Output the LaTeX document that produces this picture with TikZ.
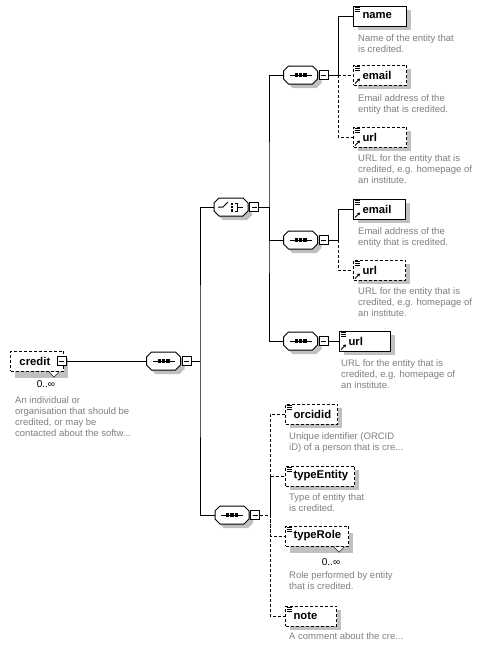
\documentclass[tikz,border=0pt]{standalone}
\usepackage{fontspec}
\usetikzlibrary{calc,shadows,arrows.meta}
\newfontfamily\uifont{Liberation Sans}
\newcommand\lblfont{\uifont\bfseries\fontsize{11.3}{13}\selectfont}
\newcommand\dscfont{\uifont\fontsize{9.5}{11}\selectfont}
\newcommand\multfont{\uifont\fontsize{10}{12}\selectfont}
\definecolor{descgray}{RGB}{128,128,128}
\definecolor{shadowgray}{RGB}{192,192,192}

\tikzset{
  conn/.style={line width=1pt},
  opt/.style={dash pattern=on 3pt off 2pt},
  elem/.style={draw, fill=white, line width=1pt, minimum height=20pt, inner sep=0pt,
    anchor=west, align=left, text width=#1, font=\lblfont},
  onebox/.style={general shadow={fill=shadowgray, shadow xshift=4pt, shadow yshift=-4pt}},
  manybox/.style={general shadow={fill=shadowgray, shadow xshift=4pt, shadow yshift=-7pt}},
  desc/.style={anchor=north west, inner sep=0pt, align=left, font=\dscfont, text=descgray},
  mult/.style={inner sep=0pt, font=\multfont},
  expander/.style={draw, fill=white, line width=0.8pt, minimum size=9pt, inner sep=0pt,
    path picture={\draw[line width=0.8pt] ([xshift=2pt]path picture bounding box.west)
      -- ([xshift=-2pt]path picture bounding box.east);}},
  compnode/.style={minimum width=34pt, minimum height=18pt, inner sep=0pt},
  glyph/.style={line width=0.7pt},
  refarrow/.style={line width=1pt, -{Triangle[length=2.5pt,width=3pt]}},
  pics/compositor/.style={code={
    \fill[shadowgray, shift={(4,4)}] (-17,-4) -- (-12,-9) -- (12,-9) -- (17,-4)
      -- (17,4) -- (12,9) -- (-12,9) -- (-17,4) -- cycle;
    \draw[line width=1pt, fill=white] (-17,-4) -- (-12,-9) -- (12,-9) -- (17,-4)
      -- (17,4) -- (12,9) -- (-12,9) -- (-17,4) -- cycle;
  }},
  pics/seqglyph/.style={code={
    \draw[line width=1pt] (-11,0) -- (11,0);
    \fill (-6,-1.6) rectangle (-2.8,1.6);
    \fill (-1.6,-1.6) rectangle (1.6,1.6);
    \fill (2.8,-1.6) rectangle (6,1.6);
  }},
  pics/choiceglyph/.style={code={
    \draw[line width=1pt] (-13,0) -- (-8,0) -- (-3,-5);
    \fill (-0.5,-4.5) rectangle (1.7,-2.3);
    \fill (-0.5,-1.1) rectangle (1.7,1.1);
    \fill (-0.5,2.3) rectangle (1.7,4.5);
    \draw[line width=1pt] (3.5,-4) -- (6,-4) -- (6,4) -- (3.5,4);
    \draw[line width=1pt] (6,0) -- (12,0);
  }},
}

% compositor: name, x, y, glyph
\newcommand\compositor[4]{%
  \pic at (#2,#3) {compositor};
  \pic at (#2,#3) {#4};
  \node[compnode] (#1) at (#2,#3) {};
  \node[expander] (#1x) at ({#2+23},#3) {};
}
% simple-content marker in the top left corner of an element box
\newcommand\txticon[1]{\draw[glyph] ($(#1.north west)+(1.5,1.5)$) -- ++(5,0)
  ++(-5,2) -- ++(5,0) ++(-5,2) -- ++(5,0);}
% reference arrow in the bottom left corner of an element box
\newcommand\reficon[1]{\draw[refarrow] ($(#1.south west)+(2,-2)$) -- ++(5,-5);}
% notch under a repeated element
\newcommand\manymark[1]{\draw[line width=0.6pt, draw=black!75, fill=white]
  ($(#1.south east)+(-15,0.6)$) -- ++(5,5) -- ++(5,-5);}

\begin{document}
\begin{tikzpicture}[x=1pt, y=-1pt]
\fill[white] (0,0) rectangle (479,648);
\useasboundingbox (0,0) rectangle (479,648);

% root element
\node[elem=53pt, opt, manybox] (credit) at (10,361) {\hspace*{9pt}credit};
\manymark{credit}
\node[expander] (creditx) at (61.5,361) {};
\node[mult] (creditM) at (46,384) {0..∞};
\node[desc] (creditD) at (15,396) {An individual or\\organisation that should be\\credited, or may be\\contacted about the softw...};

% compositors
\compositor{seqM}{163.5}{361}{seqglyph}
\compositor{choice}{231}{207}{choiceglyph}
\compositor{seqA}{300.5}{75}{seqglyph}
\compositor{seqB}{300.5}{240}{seqglyph}
\compositor{seqC}{300.5}{341}{seqglyph}
\compositor{seqD}{232}{515}{seqglyph}

% first sequence
\node[elem=53pt, onebox] (name) at (353,16) {\hspace*{9pt}name};
\txticon{name}
\node[desc] (nameD) at (358,34) {Name of the entity that\\is credited.};
\node[elem=53pt, opt, onebox] (emailA) at (353,75) {\hspace*{9pt}email};
\txticon{emailA}\reficon{emailA}
\node[desc] (emailAD) at (358,94) {Email address of the\\entity that is credited.};
\node[elem=53pt, opt, onebox] (urlA) at (353,137) {\hspace*{9pt}url};
\txticon{urlA}\reficon{urlA}
\node[desc] (urlAD) at (358,154) {URL for the entity that is\\credited, e.g. homepage of\\an institute.};

% second sequence
\node[elem=52pt, onebox] (emailB) at (353,209) {\hspace*{9pt}email};
\txticon{emailB}\reficon{emailB}
\node[desc] (emailBD) at (358,227) {Email address of the\\entity that is credited.};
\node[elem=52pt, opt, onebox] (urlB) at (353,270) {\hspace*{9pt}url};
\txticon{urlB}\reficon{urlB}
\node[desc] (urlBD) at (358,287) {URL for the entity that is\\credited, e.g. homepage of\\an institute.};

% third sequence
\node[elem=51pt, onebox] (urlC) at (339,341) {\hspace*{9pt}url};
\txticon{urlC}\reficon{urlC}
\node[desc] (urlCD) at (341,359) {URL for the entity that is\\credited, e.g. homepage of\\an institute.};

% optional details
\node[elem=52pt, opt, onebox] (orcidid) at (285,414) {\hspace*{8pt}orcidid};
\txticon{orcidid}
\node[desc] (orcididD) at (289,432) {Unique identifier (ORCID\\iD) of a person that is cre...};
\node[elem=69pt, opt, onebox] (typeEntity) at (285,476) {\hspace*{8pt}typeEntity};
\txticon{typeEntity}
\node[desc] (typeEntityD) at (289,493) {Type of entity that\\is credited.};
\node[elem=63pt, opt, manybox] (typeRole) at (285,536) {\hspace*{8pt}typeRole};
\txticon{typeRole}\manymark{typeRole}
\node[mult] (typeRoleM) at (331,562) {0..∞};
\node[desc] (typeRoleD) at (289,571) {Role performed by entity\\that is credited.};
\node[elem=51pt, opt, onebox] (note) at (285,616) {\hspace*{8pt}note};
\txticon{note}
\node[desc] (noteD) at (289,632) {A comment about the cre...};

% junctions
\coordinate (jM) at (200,361);
\coordinate (jC) at (269,207);
\coordinate (jA) at (338,75);
\coordinate (jB) at (338,240);
\coordinate (jD) at (270,515);

% connectors
\draw[conn] (creditx.east) -- (seqM.west);
\draw[conn] (seqMx.east) -- (jM);
\draw[conn] (choice.west) -| (jM) |- (seqD.west);
\draw[conn] (choicex.east) -- (jC);
\draw[conn] (seqA.west) -| (jC) |- (seqC.west);
\draw[conn] (jC) |- (seqB.west);
\draw[conn] (seqAx.east) -- (jA);
\draw[conn] (jA) |- (name.west);
\draw[conn, opt] (jA) -- (emailA.west);
\draw[conn, opt] (jA) |- (urlA.west);
\draw[conn] (seqBx.east) -- (jB);
\draw[conn] (jB) |- (emailB.west);
\draw[conn, opt] (jB) |- (urlB.west);
\draw[conn] (seqCx.east) -- (urlC.west);
\draw[conn, opt] (seqDx.east) -- (jD);
\draw[conn, opt] (orcidid.west) -| (jD) |- (note.west);
\draw[conn, opt] (jD) |- (typeEntity.west);
\draw[conn, opt] (jD) |- (typeRole.west);
\end{tikzpicture}
\end{document}
